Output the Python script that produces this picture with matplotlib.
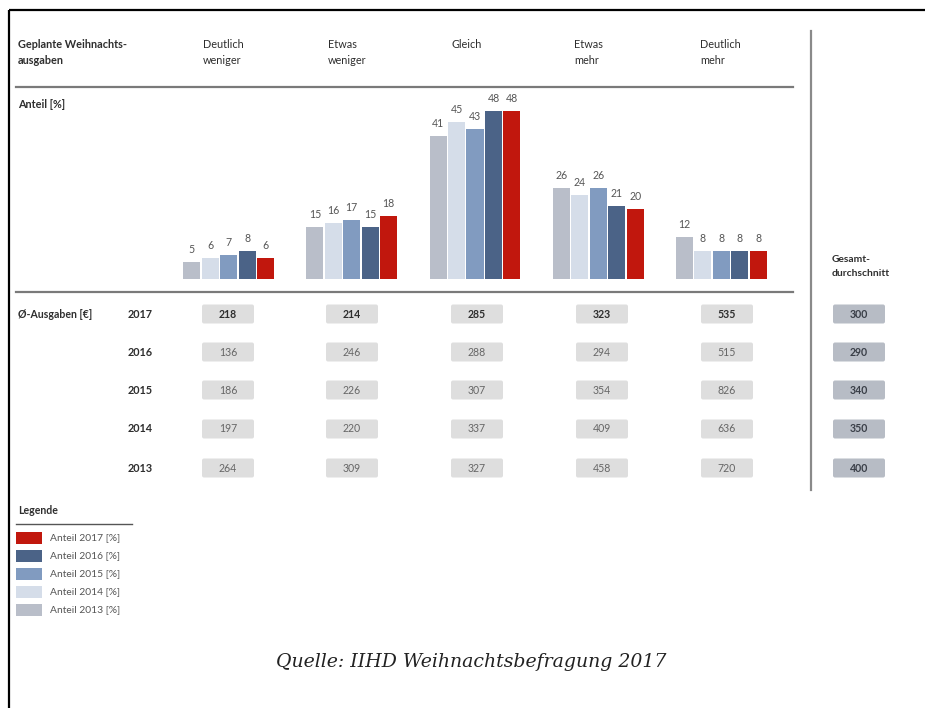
import matplotlib
matplotlib.use("Agg")
import matplotlib.pyplot as plt
from matplotlib.patches import FancyBboxPatch, Rectangle
import numpy as np

# ---- data ----
categories = ["Deutlich\nweniger", "Etwas\nweniger", "Gleich", "Etwas\nmehr", "Deutlich\nmehr"]
years = ["2013", "2014", "2015", "2016", "2017"]
share_2013 = [5, 15, 41, 26, 12]
share_2014 = [6, 16, 45, 24, 8]
share_2015 = [7, 17, 43, 26, 8]
share_2016 = [8, 15, 48, 21, 8]
share_2017 = [6, 18, 48, 20, 8]
shares = [share_2013, share_2014, share_2015, share_2016, share_2017]
series_colors = ["#b9bec9", "#d5dde9", "#819bc0", "#4b6387", "#c1170d"]

table_years = ["2017", "2016", "2015", "2014", "2013"]
spend_2017 = [218, 214, 285, 323, 535]
spend_2016 = [136, 246, 288, 294, 515]
spend_2015 = [186, 226, 307, 354, 826]
spend_2014 = [197, 220, 337, 409, 636]
spend_2013 = [264, 309, 327, 458, 720]
spending = [spend_2017, spend_2016, spend_2015, spend_2014, spend_2013]
overall_avg = [300, 290, 340, 350, 400]

legend_labels = ["Anteil 2017 [%]", "Anteil 2016 [%]", "Anteil 2015 [%]",
                 "Anteil 2014 [%]", "Anteil 2013 [%]"]

W, H = 925, 708
fig = plt.figure(figsize=(W / 100, H / 100), dpi=100)
plt.rcParams["font.family"] = ["Lato", "DejaVu Sans"]

# pixel-coordinate canvas for the surrounding layout
bg = fig.add_axes([0, 0, 1, 1])
bg.set_xlim(0, W)
bg.set_ylim(H, 0)
bg.axis("off")

# frame
bg.plot([9, W], [10, 10], color="black", lw=1.6, solid_capstyle="butt")
bg.plot([9, 9], [10, H], color="black", lw=1.6, solid_capstyle="butt")

txt_dark = "#2e2e2e"
txt_gray = "#555555"
fs = 7.8


def multiline(x, y0, text, step, **kw):
    for i, line in enumerate(text.split("\n")):
        bg.text(x, y0 + i * step, line, va="center", ha="left", **kw)


# header
multiline(18, 45, "Geplante Weihnachts-\nausgaben", 15, fontsize=fs,
          fontweight="bold", color=txt_dark)
header_x = [203, 328, 451, 574, 700]
for hx, c in zip(header_x, categories):
    multiline(hx, 45, c, 15, fontsize=fs, color=txt_dark)
bg.plot([16, 793], [87, 87], color="#7a7a7a", lw=1.6)
bg.text(18, 105, "Anteil [%]", fontsize=fs, fontweight="bold", color=txt_dark,
        va="center", ha="left")

# separators
bg.plot([16, 793], [292, 292], color="#7a7a7a", lw=1.6)
bg.plot([811, 811], [31, 490], color="#8a8a8a", lw=1.6)

multiline(832, 260, "Gesamt-\ndurchschnitt", 14, fontsize=7.4,
          fontweight="bold", color=txt_dark)

# ---- bar chart ----
left_px, right_px = 167, 783
bottom_px, top_px = 279, 100
ax = fig.add_axes([left_px / W, 1 - bottom_px / H,
                   (right_px - left_px) / W, (bottom_px - top_px) / H])
ax.set_xlim(-0.5, 4.5)
ax.set_ylim(0, (bottom_px - top_px) / 3.5)
ax.axis("off")
x = np.arange(len(categories))
pitch = 0.15
bw = 0.138
for k, (vals, col) in enumerate(zip(shares, series_colors)):
    xs = x + (k - 2) * pitch
    ax.bar(xs, vals, width=bw, color=col, edgecolor="none")
    for xi, v in zip(xs, vals):
        ax.annotate(str(v), (xi, v), xytext=(0, 5), textcoords="offset points",
                    ha="center", va="bottom", fontsize=7.6, color=txt_gray)

# ---- spending table ----
cell_x = [228, 352, 477, 602, 727]
avg_x = 859
row_y = [314, 352, 390, 429, 468]
cell_w, cell_h = 52, 19
bg.text(18, row_y[0], "Ø-Ausgaben [€]", fontsize=7.6, fontweight="bold",
        color=txt_dark, va="center", ha="left")
for r, (yr, vals, avg) in enumerate(zip(table_years, spending, overall_avg)):
    y = row_y[r]
    bold = r == 0
    bg.text(128, y, yr, fontsize=fs, fontweight="bold", color=txt_dark,
            va="center", ha="left")
    for cx, v in zip(cell_x, vals):
        bg.add_patch(FancyBboxPatch((cx - cell_w / 2, y - cell_h / 2), cell_w, cell_h,
                                    boxstyle="round,pad=0,rounding_size=2",
                                    facecolor="#dedede", edgecolor="none"))
        bg.text(cx, y, str(v), fontsize=7.6, fontweight="bold" if bold else "normal",
                color=txt_dark if bold else "#666666", va="center", ha="center")
    bg.add_patch(FancyBboxPatch((avg_x - cell_w / 2, y - cell_h / 2), cell_w, cell_h,
                                boxstyle="round,pad=0,rounding_size=2",
                                facecolor="#b7bcc5", edgecolor="none"))
    bg.text(avg_x, y, str(avg), fontsize=7.6, fontweight="bold", color="#3a3f48",
            va="center", ha="center")

# ---- legend ----
bg.text(18, 510, "Legende", fontsize=7.6, fontweight="bold", color=txt_dark,
        va="center", ha="left")
bg.plot([16, 132], [524, 524], color="#555555", lw=1.0)
leg_y = [538, 556, 574, 592, 610]
for y, lab, col in zip(leg_y, legend_labels, series_colors[::-1]):
    bg.add_patch(Rectangle((16, y - 6), 26, 12, facecolor=col, edgecolor="none"))
    bg.text(50, y, lab, fontsize=7.4, color=txt_gray, va="center", ha="left")

# source
bg.text(471, 662, "Quelle: IIHD Weihnachtsbefragung 2017", fontsize=13.6,
        family="DejaVu Serif", style="italic", color="#222222",
        ha="center", va="center")

fig.savefig("out.png", dpi=100)
